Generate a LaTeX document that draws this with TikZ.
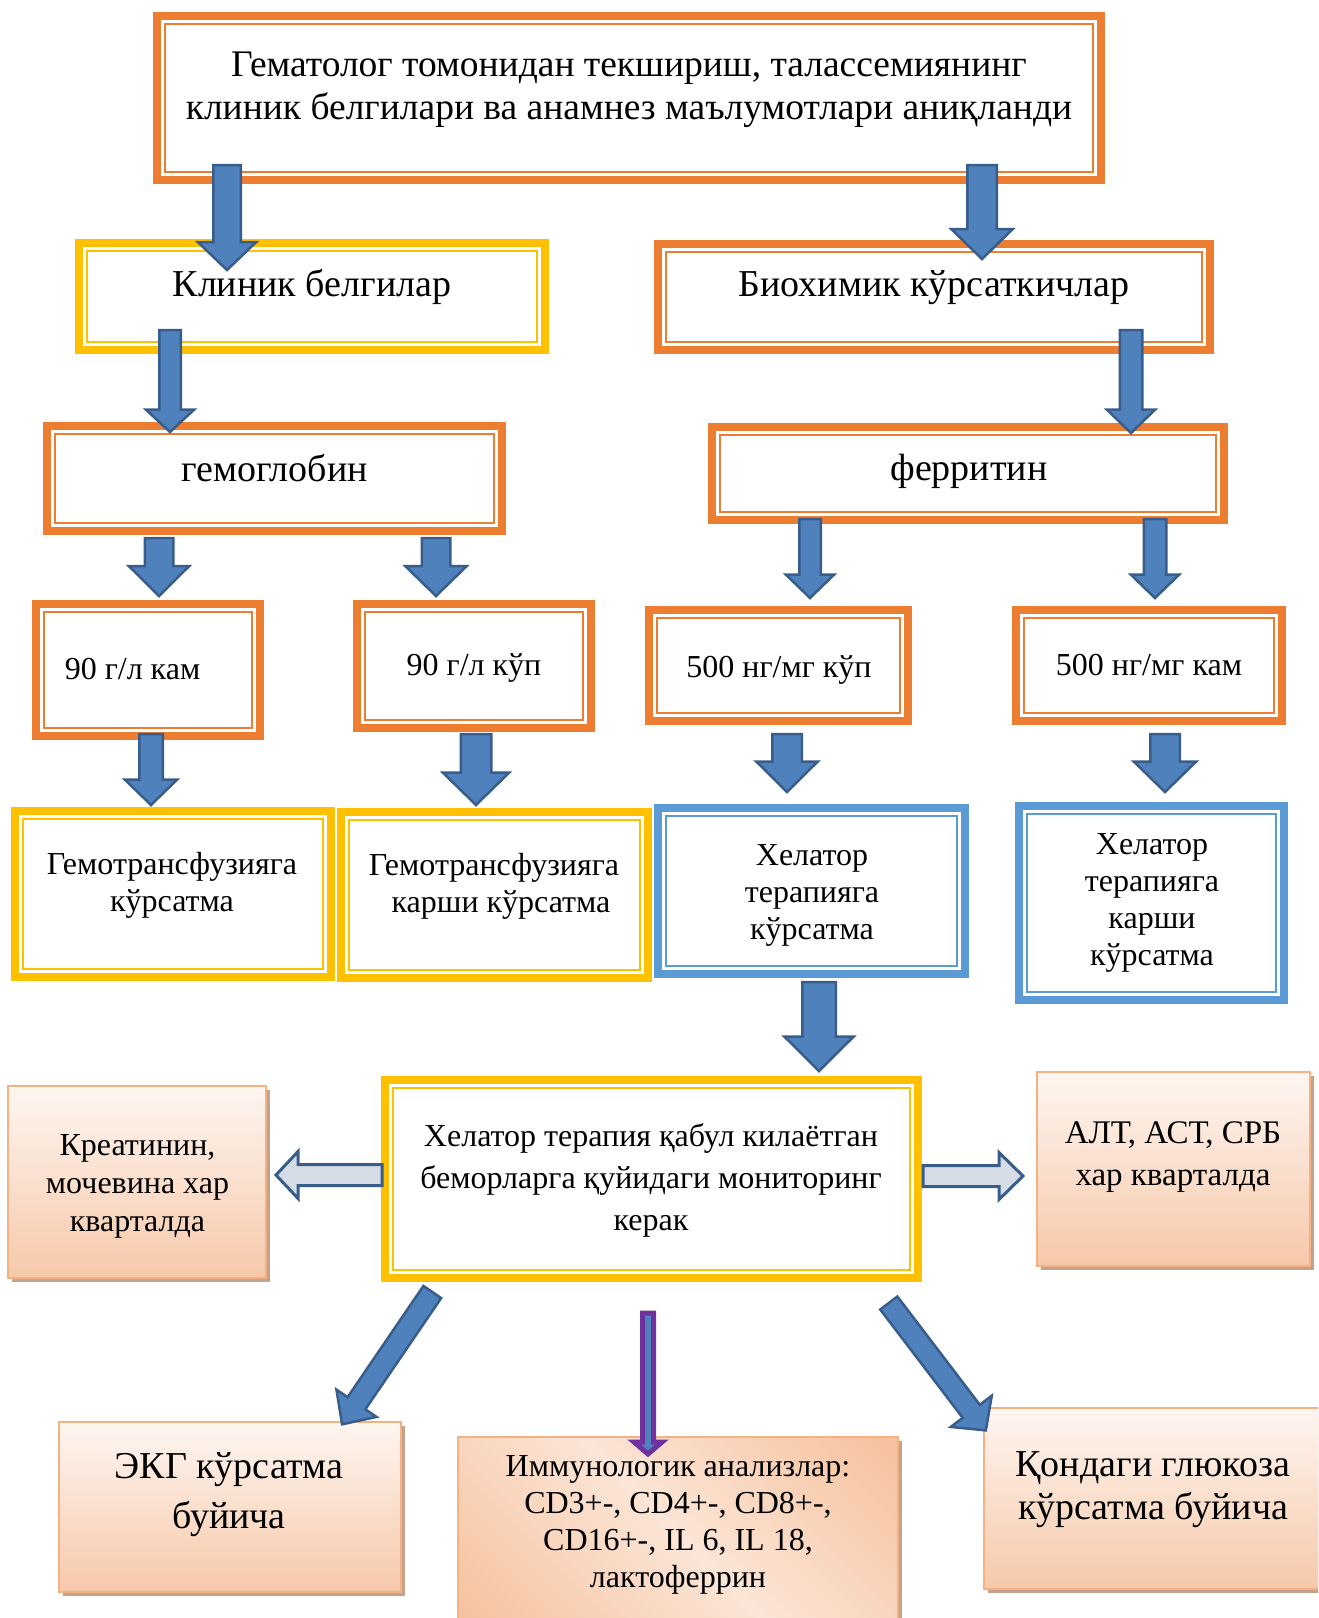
\documentclass[tikz,border=0pt]{standalone}
\usepackage{fontspec}
\setmainfont{Liberation Serif}
\usetikzlibrary{calc,shadows}
\definecolor{borange}{HTML}{ED7D31}
\definecolor{byellow}{HTML}{FFC000}
\definecolor{bblue}{HTML}{5B9BD5}
\definecolor{arrowfill}{HTML}{4F81BD}
\definecolor{arrowline}{HTML}{385D8A}
\definecolor{arrowpale}{HTML}{D6DCE5}
\definecolor{arrowpurple}{HTML}{7030A0}
\definecolor{peachtop}{HTML}{FEF6F1}
\definecolor{peachbot}{HTML}{F6C8A9}
\definecolor{peachdark}{HTML}{F4B183}
\definecolor{peachlight}{HTML}{FBE5D6}
\definecolor{shadowbrown}{HTML}{C4A18B}
\pgfdeclarehorizontalshading{peachband}{100bp}{color(0bp)=(peachdark);
  color(50bp)=(peachlight); color(100bp)=(peachdark)}
\tikzset{thickthin/.style={fill=white,
                           draw=#1,
                           line width=2pt,
                           inner sep=0pt,
                           outer sep=0pt,
                           preaction={draw=#1, line width=24pt},
                           preaction={draw=white, line width=8pt}}}
\tikzstyle{orangebox} = [thickthin=borange]
\tikzstyle{yellowbox} = [thickthin=byellow]
\tikzstyle{bluebox}   = [thickthin=bblue]
\tikzstyle{peachedge} = [draw=peachdark,
                         line width=2pt,
                         inner sep=0pt,
                         drop shadow={shadow xshift=4pt, shadow yshift=-4pt,
                                      fill=shadowbrown, opacity=1}]
\tikzstyle{peachbox}  = [peachedge, top color=peachtop, bottom color=peachbot]
\tikzstyle{bandbox}   = [peachedge, shading=peachband, shading angle=45]
\tikzstyle{bigtext}   = [font=\fontsize{38}{43}\selectfont, align=center, inner sep=0pt]
\tikzstyle{midtext}   = [font=\fontsize{32}{37}\selectfont, align=center, inner sep=0pt]
\tikzstyle{bluearrow} = [fill=arrowfill, draw=arrowline, line width=2.5pt, line join=miter]
\tikzstyle{palearrow} = [fill=arrowpale, draw=arrowline, line width=3pt, line join=miter]
\tikzstyle{violetarrow} = [fill=arrowfill, draw=arrowpurple, line width=5pt, line join=miter]
% block arrow: [style]{tail}{tip}{shaft half width}{head half width}{head length}
\newcommand{\blockarrow}[6][bluearrow]{%
  \coordinate (neck) at ($(#3)!#6!(#2)$);
  \draw[#1] ($(#2)!#4!90:(#3)$) -- ($(neck)!#4!90:(#3)$)
    -- ($(neck)!#5!90:(#3)$) -- (#3)
    -- ($(neck)!#5!-90:(#3)$) -- ($(neck)!#4!-90:(#3)$)
    -- ($(#2)!#4!-90:(#3)$) -- cycle;
}

\begin{document}
\begin{tikzpicture}[x=1pt, y=-1pt]

  \useasboundingbox (0,0) rectangle (1318,1618);
  \clip (0,0) rectangle (1318,1618);

  % Nodes
  \node[orangebox, minimum width=928pt, minimum height=148pt] (gemat) at (629,98) {};
  \node[yellowbox, minimum width=450pt, minimum height=91pt] (klinik) at (312,296.5) {};
  \node[orangebox, minimum width=536pt, minimum height=90pt] (biokh) at (934,297) {};
  \node[orangebox, minimum width=439pt, minimum height=89pt] (gemo) at (274.5,478.5) {};
  \node[orangebox, minimum width=496pt, minimum height=77pt] (ferr) at (968,473.5) {};
  \node[orangebox, minimum width=208pt, minimum height=116pt] (hblow) at (148,670) {};
  \node[orangebox, minimum width=218pt, minimum height=108pt] (hbhigh) at (474,666) {};
  \node[orangebox, minimum width=243pt, minimum height=95pt] (ferhigh) at (778.5,665.5) {};
  \node[orangebox, minimum width=250pt, minimum height=95pt] (ferlow) at (1149,665.5) {};
  \node[yellowbox, minimum width=300pt, minimum height=150pt] (transyes) at (173,894) {};
  \node[yellowbox, minimum width=291pt, minimum height=150pt] (transno) at (494.5,895) {};
  \node[bluebox, minimum width=291pt, minimum height=150pt] (chelyes) at (811.5,891) {};
  \node[bluebox, minimum width=249pt, minimum height=178pt] (chelno) at (1151.5,903) {};
  \node[yellowbox, minimum width=517pt, minimum height=182pt] (monit) at (651.5,1179) {};
  \node[peachbox, minimum width=258pt, minimum height=192pt] (kreat) at (137,1182) {};
  \node[peachbox, minimum width=273pt, minimum height=194pt] (alt) at (1173.5,1169) {};
  \node[peachbox, minimum width=342pt, minimum height=170pt] (ekg) at (230,1507) {};
  \node[bandbox, minimum width=440pt, minimum height=192pt] (immuno) at (678,1533) {};
  \node[peachbox, minimum width=340pt, minimum height=181pt] (gluc) at (1154,1498.5) {};

  % Texts
  \node[bigtext, font=\fontsize{37.5}{43}\selectfont] (gematT) at (629,90)
    {Гематолог томонидан текшириш, талассемиянинг\\клиник белгилари ва анамнез маълумотлари аниқланди};
  \node[bigtext] (klinikT) at (312,286.5) {Клиник белгилар};
  \node[bigtext] (biokhT) at (934,287.5) {Биохимик кўрсаткичлар};
  \node[bigtext] (gemoT) at (274.5,468) {гемоглобин};
  \node[bigtext] (ferrT) at (969,471) {ферритин};
  \node[midtext] (hblowT) at (132.5,669) {90 г/л кам};
  \node[midtext] (hbhighT) at (474,668) {90 г/л кўп};
  \node[midtext] (ferhighT) at (779,670) {500 нг/мг кўп};
  \node[midtext] (ferlowT) at (1149,665) {500 нг/мг кам};
  \node[midtext] (transyesT) at (172,885) {Гемотрансфузияга\\кўрсатма};
  \node[midtext] (transnoT) at (494,886) {Гемотрансфузияга\\\hspace*{14pt}карши кўрсатма};
  \node[midtext] (chelyesT) at (812,895) {Хелатор\\терапияга\\кўрсатма};
  \node[midtext] (chelnoT) at (1152,902.5) {Хелатор\\терапияга\\карши\\кўрсатма};
  \node[midtext, font=\fontsize{32}{42}\selectfont] (monitT) at (651,1180.5)
    {Хелатор терапия қабул килаётган\\беморларга қуйидаги мониторинг\\керак};
  \node[midtext, font=\fontsize{32}{38}\selectfont] (kreatT) at (137.5,1186) {Креатинин,\\мочевина хар\\кварталда};
  \node[midtext, font=\fontsize{33}{42}\selectfont] (altT) at (1173,1157.5) {АЛТ, АСТ, СРБ\\хар кварталда};
  \node[bigtext, font=\fontsize{38}{50}\selectfont] (ekgT) at (229,1494.5) {ЭКГ кўрсатма\\буйича};
  \node[bigtext, font=\fontsize{38}{43}\selectfont] (glucT) at (1153,1490) {Қондаги глюкоза\\кўрсатма буйича};
  \node[midtext] (immunoT) at (678,1525)
    {Иммунологик анализлар:\\CD3+-, CD4+-, CD8+-,\\CD16+-, IL 6, IL 18,\\лактоферрин};

  % Edges
  \coordinate (gemat-l) at (227,165);   \coordinate (klinik-in) at (227,270);
  \coordinate (gemat-r) at (982,165);   \coordinate (biokh-in) at (982,259);
  \coordinate (klinik-out) at (170,330); \coordinate (gemo-in) at (170,432);
  \coordinate (biokh-out) at (1131,330); \coordinate (ferr-in) at (1131,433);
  \coordinate (gemo-l) at (159,538);    \coordinate (hblow-in) at (159,596);
  \coordinate (gemo-r) at (436,538);    \coordinate (hbhigh-in) at (436,596);
  \coordinate (ferr-l) at (810,519);    \coordinate (ferhigh-in) at (810,598);
  \coordinate (ferr-r) at (1155,519);   \coordinate (ferlow-in) at (1155,598);
  \coordinate (hblow-out) at (151,734); \coordinate (transyes-in) at (151,805);
  \coordinate (hbhigh-out) at (476,734); \coordinate (transno-in) at (476,805);
  \coordinate (ferhigh-out) at (787,734); \coordinate (chelyes-in) at (787,792);
  \coordinate (ferlow-out) at (1165,734); \coordinate (chelno-in) at (1165,792);
  \coordinate (chelyes-out) at (819,982); \coordinate (monit-in) at (819,1071);
  \coordinate (monit-l) at (382,1175);  \coordinate (kreat-in) at (276,1175);
  \coordinate (monit-r) at (923,1176);  \coordinate (alt-in) at (1023,1176);
  \coordinate (monit-bl) at (432.3,1292); \coordinate (ekg-in) at (342.1,1424.3);
  \coordinate (monit-bm) at (648,1313); \coordinate (immuno-in) at (648,1454);
  \coordinate (monit-br) at (888.8,1303); \coordinate (gluc-in) at (985.8,1430.4);

  \blockarrow{gemat-l}{klinik-in}{13.75pt}{29.25pt}{28pt}
  \blockarrow{gemat-r}{biokh-in}{14.75pt}{30.75pt}{30pt}
  \blockarrow{klinik-out}{gemo-in}{10.75pt}{24.25pt}{22.5pt}
  \blockarrow{biokh-out}{ferr-in}{11.25pt}{24.25pt}{23.5pt}
  \blockarrow{gemo-l}{hblow-in}{14.25pt}{30.25pt}{30pt}
  \blockarrow{gemo-r}{hbhigh-in}{14.25pt}{30.75pt}{30pt}
  \blockarrow{ferr-l}{ferhigh-in}{10.75pt}{24.25pt}{23.5pt}
  \blockarrow{ferr-r}{ferlow-in}{11.25pt}{24.25pt}{23.5pt}
  \blockarrow{hblow-out}{transyes-in}{11.75pt}{26.25pt}{25.5pt}
  \blockarrow{hbhigh-out}{transno-in}{15.25pt}{33.25pt}{32.5pt}
  \blockarrow{ferhigh-out}{chelyes-in}{14.75pt}{30.75pt}{30.5pt}
  \blockarrow{ferlow-out}{chelno-in}{14.75pt}{31.25pt}{30.5pt}
  \blockarrow{chelyes-out}{monit-in}{16.75pt}{34.75pt}{34.5pt}
  \blockarrow[palearrow]{monit-l}{kreat-in}{10.5pt}{23.5pt}{22pt}
  \blockarrow[palearrow]{monit-r}{alt-in}{10.5pt}{23.5pt}{24pt}
  \blockarrow{monit-bl}{ekg-in}{10.75pt}{24.25pt}{25.5pt}
  \blockarrow[violetarrow]{monit-bm}{immuno-in}{5.5pt}{14pt}{12pt}
  \blockarrow{monit-br}{gluc-in}{10.75pt}{25.75pt}{24pt}

\end{tikzpicture}
\end{document}
